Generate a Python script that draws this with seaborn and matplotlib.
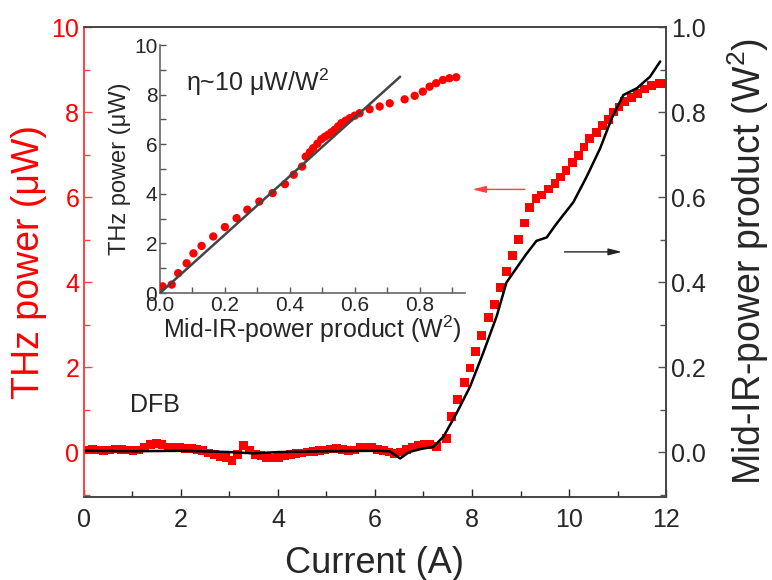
import matplotlib
matplotlib.use('Agg')
import matplotlib.pyplot as plt
import seaborn as sns
import pandas as pd
from matplotlib.ticker import MultipleLocator, FormatStrFormatter

sns.set_style('ticks')
plt.rcParams['font.family'] = ['Liberation Sans', 'DejaVu Sans']
plt.rcParams['mathtext.fontset'] = 'custom'
plt.rcParams['mathtext.rm'] = 'Liberation Sans'
plt.rcParams['mathtext.it'] = 'Liberation Sans:italic'
plt.rcParams['xtick.direction'] = 'in'
plt.rcParams['ytick.direction'] = 'in'

# THz power vs current (red squares, left axis)
current_thz = [0.05, 0.17, 0.29, 0.41, 0.53, 0.65, 0.77, 0.89, 1.01, 1.13,
               1.25, 1.37, 1.49, 1.61, 1.73, 1.85, 1.97, 2.09, 2.21, 2.33,
               2.45, 2.57, 2.69, 2.81, 2.93, 3.05, 3.17, 3.29, 3.41, 3.53,
               3.65, 3.77, 3.89, 4.01, 4.13, 4.25, 4.37, 4.49, 4.61, 4.73,
               4.85, 4.97, 5.09, 5.21, 5.33, 5.45, 5.57, 5.69, 5.81, 5.93,
               6.05, 6.17, 6.29, 6.41, 6.53, 6.65, 6.77, 6.89, 7.01, 7.13,
               7.27, 7.48, 7.58, 7.70, 7.84, 7.96, 8.08, 8.20, 8.34, 8.47,
               8.58, 8.71, 8.84, 8.96, 9.09, 9.18, 9.32, 9.43, 9.57, 9.71,
               9.82, 9.94, 10.08, 10.19, 10.31, 10.43, 10.56, 10.69, 10.81, 10.91,
               11.03, 11.15, 11.29, 11.42, 11.56, 11.70, 11.87, 11.97]
thz_power = [0.05, 0.06, 0.05, 0.04, 0.05, 0.07, 0.06, 0.05, 0.03, 0.05,
             0.12, 0.18, 0.20, 0.17, 0.12, 0.10, 0.10, 0.08, 0.09, 0.06,
             0.03, -0.02, -0.06, -0.10, -0.12, -0.20, -0.05, 0.15, 0.05, -0.05,
             -0.08, -0.12, -0.14, -0.12, -0.08, -0.06, -0.04, -0.02, 0.00, 0.02,
             0.04, 0.05, 0.07, 0.09, 0.06, 0.04, 0.05, 0.10, 0.12, 0.10,
             0.06, 0.03, 0.00, -0.04, 0.00, 0.06, 0.12, 0.15, 0.17, 0.17,
             0.13, 0.32, 0.83, 1.23, 1.64, 1.98, 2.37, 2.74, 3.16, 3.48,
             3.87, 4.24, 4.62, 5.00, 5.39, 5.76, 5.96, 6.05, 6.19, 6.31,
             6.47, 6.63, 6.82, 6.98, 7.18, 7.38, 7.52, 7.69, 7.83, 8.00,
             8.12, 8.24, 8.34, 8.44, 8.54, 8.62, 8.68, 8.68]

# Mid-IR power product vs current (black line, right axis)
current_mir = [0.0, 1.0, 2.0, 3.0, 3.5, 4.0, 5.0, 6.0, 6.3, 6.52, 6.7, 6.97,
               7.2, 7.41, 7.68, 7.96, 8.23, 8.51, 8.71, 8.85, 9.12, 9.33, 9.54,
               9.74, 10.09, 10.36, 10.64, 10.88, 11.12, 11.40, 11.67, 11.88]
mir_product = [0.003, 0.002, 0.003, 0.0, -0.003, 0.0, 0.002, 0.003, 0.002, -0.015, 0.0, 0.008,
               0.012, 0.036, 0.091, 0.154, 0.233, 0.320, 0.399, 0.422, 0.466, 0.497, 0.505,
               0.537, 0.588, 0.647, 0.714, 0.785, 0.840, 0.856, 0.883, 0.919]

# inset: THz power vs mid-IR power product
inset_mir = [0.008, 0.036, 0.056, 0.082, 0.103, 0.128, 0.164, 0.200, 0.236, 0.269,
             0.306, 0.347, 0.385, 0.412, 0.438, 0.449, 0.462, 0.472, 0.485, 0.497,
             0.508, 0.518, 0.528, 0.538, 0.549, 0.559, 0.572, 0.585, 0.600, 0.615,
             0.646, 0.677, 0.708, 0.754, 0.785, 0.810, 0.831, 0.851, 0.872, 0.892, 0.913]
inset_thz = [0.27, 0.34, 0.80, 1.20, 1.60, 1.90, 2.28, 2.66, 3.02, 3.36,
             3.69, 4.03, 4.39, 4.77, 5.10, 5.50, 5.68, 5.84, 6.02, 6.20,
             6.30, 6.38, 6.48, 6.58, 6.72, 6.85, 6.95, 7.05, 7.15, 7.25,
             7.41, 7.52, 7.65, 7.81, 7.95, 8.12, 8.32, 8.46, 8.59, 8.66, 8.70]
fit_x = [0.0, 0.74]
fit_y = [0.0, 8.72]

red = '#ff0000'
axis_red = '#ff4040'

fig = plt.figure(figsize=(7.72, 5.8), dpi=100)
ax = fig.add_axes([0.1088, 0.1436, 0.7539, 0.8098])
ax2 = ax.twinx()

main_df = pd.DataFrame({'Current': current_thz, 'THz': thz_power})
mir_df = pd.DataFrame({'Current': current_mir, 'MIR': mir_product})

sns.scatterplot(data=main_df, x='Current', y='THz', ax=ax, marker='s', s=40,
                color=red, edgecolor='none', zorder=3)
sns.lineplot(data=mir_df, x='Current', y='MIR', ax=ax2, color='black', lw=1.8)

ax.set_xlim(0, 12)
ax.set_ylim(-1.05, 10)
ax2.set_ylim(-0.105, 1.0)
ax.xaxis.set_major_locator(MultipleLocator(2))
ax.xaxis.set_minor_locator(MultipleLocator(1))
ax.yaxis.set_major_locator(MultipleLocator(2))
ax.yaxis.set_minor_locator(MultipleLocator(1))
ax2.yaxis.set_major_locator(MultipleLocator(0.2))
ax2.yaxis.set_minor_locator(MultipleLocator(0.1))
ax2.yaxis.set_major_formatter(FormatStrFormatter('%.1f'))

ax.set_xlabel('Current (A)', fontsize=26, labelpad=10)
ax.set_ylabel('THz power (\u03bcW)', fontsize=27, color=red, labelpad=3)
ax2.set_ylabel('Mid-IR-power product (W$^{2}$)', fontsize=27, labelpad=14)

ax.tick_params(axis='x', which='major', labelsize=18, length=6, width=1, pad=8)
ax.tick_params(axis='x', which='minor', length=4, width=1)
ax.tick_params(axis='y', which='major', labelsize=18, length=6, width=1,
               colors=axis_red, labelcolor=red)
ax.tick_params(axis='y', which='minor', length=4, width=1, colors=axis_red)
ax2.tick_params(axis='y', which='major', labelsize=18, length=6, width=1, color='#555555')
ax2.tick_params(axis='y', which='minor', length=4, width=1, color='#555555')

for a in (ax, ax2):
    for sp in a.spines.values():
        sp.set_color('#444444')
        sp.set_linewidth(1.2)
ax2.spines['left'].set_color(axis_red)
ax.spines['left'].set_color(axis_red)

ax.text(0.95, 1.1, 'DFB', fontsize=18, va='center', ha='left')
ax.annotate('', xy=(7.95, 6.18), xytext=(9.15, 6.18),
            arrowprops=dict(arrowstyle='-|>,head_length=0.8,head_width=0.2',
                            color=axis_red, lw=1.0))
ax.annotate('', xy=(11.15, 4.71), xytext=(9.85, 4.71),
            arrowprops=dict(arrowstyle='-|>,head_length=0.8,head_width=0.2',
                            color='#222222', lw=1.0))

# inset
axin = fig.add_axes([0.2073, 0.4948, 0.395, 0.4276])
axin.patch.set_alpha(0)
inset_df = pd.DataFrame({'MIR': inset_mir, 'THz': inset_thz})
fit_df = pd.DataFrame({'MIR': fit_x, 'THz': fit_y})
sns.scatterplot(data=inset_df, x='MIR', y='THz', ax=axin, s=36, color=red,
                edgecolor='none', zorder=3)
sns.lineplot(data=fit_df, x='MIR', y='THz', ax=axin, color='#444444', lw=1.8, zorder=4)
axin.set_xlim(0, 0.94)
axin.set_ylim(0, 10)
axin.xaxis.set_major_locator(MultipleLocator(0.2))
axin.xaxis.set_minor_locator(MultipleLocator(0.1))
axin.yaxis.set_major_locator(MultipleLocator(2))
axin.yaxis.set_minor_locator(MultipleLocator(1))
axin.xaxis.set_major_formatter(FormatStrFormatter('%.1f'))
axin.tick_params(which='both', labelsize=15, length=4, width=1, color='#555555', pad=2)
axin.spines['top'].set_visible(False)
axin.spines['right'].set_visible(False)
for s in ('left', 'bottom'):
    axin.spines[s].set_color('#666666')
    axin.spines[s].set_linewidth(1.2)
axin.set_xlabel('Mid-IR-power product (W$^{2}$)', fontsize=18, labelpad=-1)
axin.set_ylabel('THz power (\u03bcW)', fontsize=17, labelpad=2)
axin.text(0.08, 8.5, '\u03b7~10 \u03bcW/W$^{2}$', fontsize=18, va='center', ha='left')

fig.savefig('out.png', dpi=100)
